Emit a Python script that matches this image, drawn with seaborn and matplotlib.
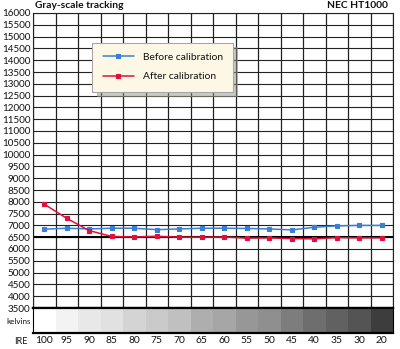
import numpy as np
import pandas as pd
import seaborn as sns
import matplotlib
matplotlib.use("Agg")
import matplotlib.pyplot as plt

# IRE stimulus levels (columns of the chart)
ire_levels = ["100", "95", "90", "85", "80", "75", "70", "65",
              "60", "55", "50", "45", "40", "35", "30", "20"]

# Measured colour temperature in kelvins
before_calibration = [6840, 6880, 6850, 6880, 6880, 6820, 6850, 6880,
                      6880, 6870, 6850, 6810, 6920, 6980, 7000, 7000]
after_calibration = [7900, 7300, 6780, 6530, 6510, 6540, 6500, 6500,
                     6510, 6460, 6470, 6440, 6430, 6480, 6470, 6470]

# Grey level of each IRE patch (1 = white, 0 = black)
patch_gray = [1.00, 0.95, 0.91, 0.88, 0.83, 0.79, 0.75, 0.68,
              0.65, 0.59, 0.56, 0.49, 0.43, 0.38, 0.33, 0.24]

series_names = ["Before calibration", "After calibration"]
series_colors = ["#3a7fd6", "#e0103c"]

df = pd.DataFrame({
    "IRE": ire_levels * 2,
    "kelvins": before_calibration + after_calibration,
    "series": [series_names[0]] * len(ire_levels) + [series_names[1]] * len(ire_levels),
})

sns.set_theme(style="white")
plt.rcParams["font.family"] = ["Lato", "DejaVu Sans"]

W, H = 400, 349
fig = plt.figure(figsize=(W / 100, H / 100), dpi=100)
fig.patch.set_facecolor("white")

left, right = 33, 393
top, plot_bottom, band_bottom = 13, 308, 333
ax = fig.add_axes([left / W, 1 - plot_bottom / H, (right - left) / W, (plot_bottom - top) / H])
band = fig.add_axes([left / W, 1 - band_bottom / H, (right - left) / W, (band_bottom - plot_bottom) / H])

grid_color = "#222222"
n = len(ire_levels)

sns.pointplot(data=df, x="IRE", y="kelvins", hue="series", order=ire_levels,
              hue_order=series_names, palette=series_colors, markers="s",
              markersize=3.2, linewidth=1.1, ax=ax, legend=True, zorder=5)

ax.set_xlim(-0.5, n - 0.5)
ax.set_ylim(3500, 16000)
ax.set_yticks(np.arange(3500, 16001, 500))
ax.set_yticklabels([str(v) for v in range(3500, 16001, 500)])
ax.set_xticks(np.arange(-0.5, n, 1.0), minor=True)
ax.tick_params(axis="x", which="both", bottom=False, labelbottom=False)
ax.tick_params(axis="y", length=0, pad=2, labelsize=7.1, labelcolor="#111111")
ax.set_xlabel("")
ax.set_ylabel("")
ax.grid(axis="y", which="major", color=grid_color, linewidth=0.8)
ax.grid(axis="x", which="minor", color=grid_color, linewidth=0.9)
ax.set_axisbelow(True)
ax.axhline(6500, color="black", linewidth=1.5, zorder=2)
for side in ["left", "right", "top"]:
    ax.spines[side].set_color(grid_color)
    ax.spines[side].set_linewidth(0.8)
ax.spines["bottom"].set_color("black")
ax.spines["bottom"].set_linewidth(1.6)

leg = ax.legend(loc="upper left", bbox_to_anchor=(0.165, 0.9), fontsize=7.4,
                frameon=True, fancybox=False, handlelength=3.0, handletextpad=0.9,
                labelspacing=1.0, borderpad=1.0, borderaxespad=0,
                shadow={"ox": 3, "oy": -3, "shade": 0.4})
leg.get_frame().set_facecolor("#fdf8e6")
leg.get_frame().set_edgecolor("#a8a8a8")
leg.get_frame().set_linewidth(0.8)
leg.get_frame().set_alpha(1)
leg.set_zorder(10)
for t in leg.get_texts():
    t.set_color("#111111")

# grey-scale patch strip under the chart
sns.heatmap(np.array([patch_gray]), ax=band, cmap="gray", vmin=0, vmax=1,
            cbar=False, xticklabels=ire_levels, yticklabels=False)
band.tick_params(axis="x", length=0, pad=2.5, labelsize=7.4, labelcolor="#111111", rotation=0)
band.set_xlabel("")
band.set_ylabel("")
for side in ["left", "right", "top", "bottom"]:
    band.spines[side].set_visible(True)
    band.spines[side].set_color("black")
band.spines["bottom"].set_linewidth(1.6)
band.spines["top"].set_linewidth(1.6)
band.spines["left"].set_linewidth(0.8)
band.spines["right"].set_linewidth(0.8)

fig.text(31 / W, 1 - 321 / H, "kelvins", ha="right", va="center", fontsize=5.8, color="#111111")
fig.text(28 / W, 1 - 341 / H, "IRE", ha="right", va="center", fontsize=6.6, color="#111111")

fig.text(35 / W, 1 - 6 / H, "Gray-scale tracking", ha="left", va="center",
         fontsize=7.4, fontweight="bold", color="#111111")
fig.text(388 / W, 1 - 6 / H, "NEC HT1000", ha="right", va="center",
         fontsize=7.4, fontweight="bold", color="#111111")

fig.savefig("out.png", dpi=100, facecolor="white")
